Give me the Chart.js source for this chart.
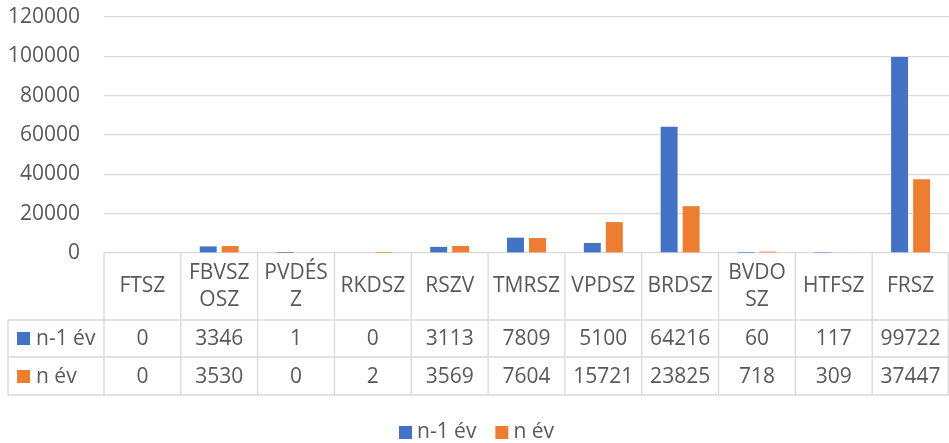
<!DOCTYPE html>
<html>
<head>
<meta charset="utf-8">
<script src="https://cdn.jsdelivr.net/npm/chart.js@4/dist/chart.umd.min.js"></script>
<style>
  html, body { margin: 0; padding: 0; background: #fff; }
  #wrap { width: 949px; height: 443px; position: relative; }
</style>
</head>
<body>
<div id="wrap"><canvas id="c" width="949" height="443"></canvas></div>
<script>
// ---- Data ----
const categoryLines = [['FTSZ'], ['FBVSZ', 'OSZ'], ['PVDÉS', 'Z'], ['RKDSZ'], ['RSZV'], ['TMRSZ'], ['VPDSZ'], ['BRDSZ'], ['BVDO', 'SZ'], ['HTFSZ'], ['FRSZ']];
const categories = categoryLines.map(l => l.join(''));
const seriesNames = ['n-1 év', 'n év'];
const prevYear = [0, 3346, 1, 0, 3113, 7809, 5100, 64216, 60, 117, 99722];
const currYear = [0, 3530, 0, 2, 3569, 7604, 15721, 23825, 718, 309, 37447];
const yTicks = [0, 20000, 40000, 60000, 80000, 100000, 120000];

const colors = ['#4472C4', '#ED7D31'];
const textColor = '#595959';
const gridColor = '#D9D9D9';
const FONT = '"Open Sans", "Liberation Sans", sans-serif';
const FS = 21;

const tablePlugin = {
  id: 'dataTable',
  afterDraw(chart) {
    const ctx = chart.ctx;
    const xs = chart.scales.x;
    const area = chart.chartArea;
    const n = categories.length;
    const cw = (xs.right - xs.left) / n;
    const top = area.bottom;
    const headerBottom = 320;
    const row1Bottom = 357;
    const row2Bottom = 395;
    const leftEdge = 8;
    ctx.save();
    ctx.strokeStyle = gridColor;
    ctx.lineWidth = 1.3;
    const hline = (x1, x2, y) => { ctx.beginPath(); ctx.moveTo(x1, y); ctx.lineTo(x2, y); ctx.stroke(); };
    const vline = (x, y1, y2) => { ctx.beginPath(); ctx.moveTo(x, y1); ctx.lineTo(x, y2); ctx.stroke(); };
    hline(leftEdge, xs.right, headerBottom);
    hline(leftEdge, xs.right, row1Bottom);
    hline(leftEdge, xs.right, row2Bottom);
    vline(leftEdge, headerBottom, row2Bottom);
    for (let i = 0; i <= n; i++) {
      let x = xs.left + i * cw;
      if (i === n) x = xs.right - 0.7;
      vline(x, top, row2Bottom);
    }
    ctx.fillStyle = textColor;
    ctx.font = FS + 'px ' + FONT;
    ctx.textAlign = 'center';
    ctx.textBaseline = 'middle';
    const series = [prevYear, currYear];
    const rowCenters = [339, 377];
    for (let i = 0; i < n; i++) {
      const cx = xs.getPixelForValue(i);
      const lines = categoryLines[i];
      if (lines.length === 1) {
        ctx.fillText(lines[0], cx, 286);
      } else {
        ctx.fillText(lines[0], cx, 273);
        ctx.fillText(lines[1], cx, 300);
      }
      for (let s = 0; s < series.length; s++) {
        ctx.fillText(String(series[s][i]), cx, rowCenters[s]);
      }
    }
    ctx.textAlign = 'left';
    for (let s = 0; s < series.length; s++) {
      ctx.fillStyle = colors[s];
      ctx.fillRect(17, rowCenters[s] - 7, 13, 13);
      ctx.fillStyle = textColor;
      ctx.fillText(seriesNames[s], 36, rowCenters[s]);
    }
    const ly = 432;
    let lx = 399;
    for (let s = 0; s < series.length; s++) {
      ctx.fillStyle = colors[s];
      ctx.fillRect(lx, ly - 6, 13, 13);
      ctx.fillStyle = textColor;
      ctx.fillText(seriesNames[s], lx + 18, ly);
      lx += 18 + ctx.measureText(seriesNames[s]).width + 19;
    }
    ctx.restore();
  }
};

new Chart(document.getElementById('c'), {
  type: 'bar',
  data: {
    labels: categories,
    datasets: [
      { label: seriesNames[0], data: prevYear, backgroundColor: colors[0], categoryPercentage: 0.573, barPercentage: 0.77 },
      { label: seriesNames[1], data: currYear, backgroundColor: colors[1], categoryPercentage: 0.573, barPercentage: 0.77 }
    ]
  },
  options: {
    responsive: false,
    animation: false,
    devicePixelRatio: 1,
    layout: { padding: { top: 17, right: 0, bottom: 0, left: 0 } },
    plugins: {
      legend: { display: false },
      tooltip: { enabled: false },
      title: { display: false }
    },
    scales: {
      x: {
        ticks: { display: false },
        grid: { display: false },
        border: { display: false },
        afterFit(scale) { scale.height = 190; }
      },
      y: {
        min: 0,
        max: 120000,
        afterBuildTicks(scale) { scale.ticks = yTicks.map(v => ({ value: v })); },
        ticks: {
          color: textColor,
          font: { family: FONT, size: FS },
          padding: 0,
          callback: v => String(v)
        },
        grid: { color: gridColor, lineWidth: 1.3, drawTicks: true, tickLength: 24, tickColor: 'rgba(0,0,0,0)' },
        border: { display: false },
        afterFit(scale) { scale.width = 104; }
      }
    }
  },
  plugins: [tablePlugin]
});
</script>
</body>
</html>
